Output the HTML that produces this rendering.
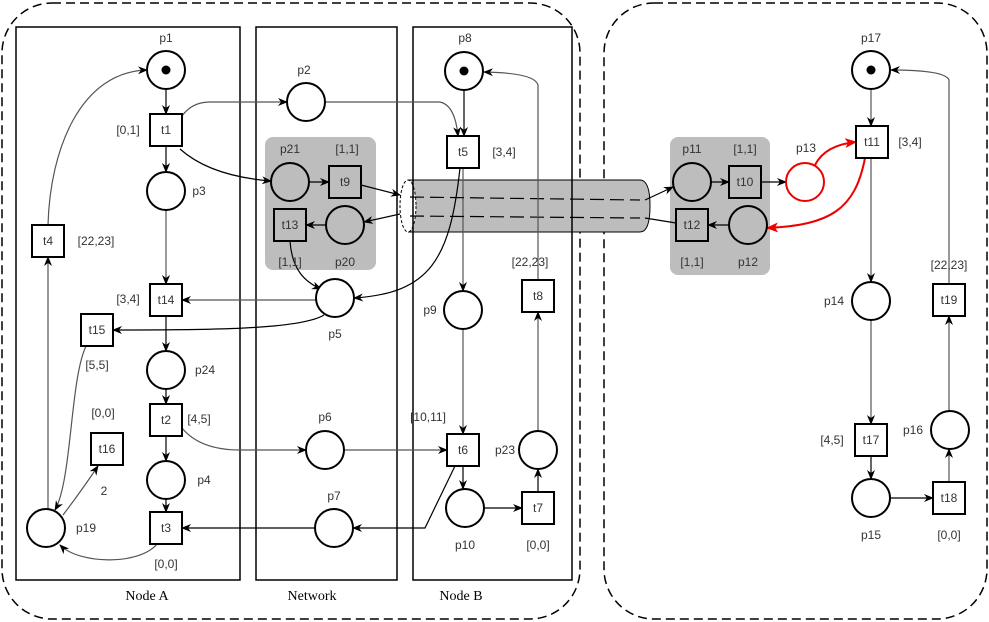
<!DOCTYPE html>
<html><head><meta charset="utf-8"><style>
body{margin:0;background:#fff;}
svg{display:block;font-family:"Liberation Sans",Arial,sans-serif;}
.l{font-size:12px;fill:#333;text-anchor:middle;dominant-baseline:central;}
.s{font-family:"Liberation Serif",serif;font-size:14px;fill:#000;text-anchor:middle;}
.pl{fill:#fff;stroke:#000;stroke-width:2;}
.pg{fill:#bdbdbd;stroke:#000;stroke-width:2;}
.e{fill:none;stroke:#555;stroke-width:1.2;marker-end:url(#a);}
.k{fill:none;stroke:#000;stroke-width:1.2;marker-end:url(#a);}
</style></head><body>
<svg width="989" height="622" viewBox="0 0 989 622" xmlns="http://www.w3.org/2000/svg">
<defs>
<marker id="a" markerWidth="10" markerHeight="8" refX="9" refY="4" orient="auto" markerUnits="userSpaceOnUse"><path d="M0,0 L10,4 L0,8 L3,4 Z" fill="#000"/></marker>
<marker id="r" markerWidth="12" markerHeight="10" refX="11" refY="5" orient="auto" markerUnits="userSpaceOnUse"><path d="M0,0 L12,5 L0,10 L3,5 Z" fill="#e00"/></marker>
</defs>
<!-- outer dashed boxes -->
<rect x="2" y="3" width="578" height="616" rx="50" fill="none" stroke="#000" stroke-width="1.5" stroke-dasharray="9,5"/>
<rect x="604" y="3" width="383" height="616" rx="50" fill="none" stroke="#000" stroke-width="1.5" stroke-dasharray="9,5"/>
<!-- cylinder -->
<path d="M408,180 L640,180 Q650,180 650,206 Q650,232 640,232 L408,232" fill="#bdbdbd" stroke="#000" stroke-width="1"/>
<ellipse cx="408" cy="206" rx="8" ry="26" fill="#fff" stroke="#000" stroke-width="1" stroke-dasharray="3,2"/>
<!-- panels -->
<rect x="16" y="27" width="224" height="553" fill="none" stroke="#000" stroke-width="1.5"/>
<rect x="256" y="27" width="141" height="553" fill="none" stroke="#000" stroke-width="1.5"/>
<rect x="413" y="27" width="159" height="553" fill="none" stroke="#000" stroke-width="1.5"/>
<text class="s" x="147" y="600">Node A</text>
<text class="s" x="312" y="600">Network</text>
<text class="s" x="461" y="600">Node B</text>
<!-- gray groups -->
<rect x="265" y="137" width="111" height="133" rx="8" fill="#bdbdbd"/>
<rect x="670" y="137" width="100" height="138" rx="8" fill="#bdbdbd"/>

<!-- edges -->
<g>
<path class="k" d="M166,89 L166,114"/>
<path class="k" d="M166,146 L166,172"/>
<path class="e" d="M166,210 L166,284"/>
<path class="k" d="M166,316 L166,351"/>
<path class="k" d="M166,389 L166,404"/>
<path class="k" d="M166,436 L166,461"/>
<path class="k" d="M166,499 L166,512"/>
<path class="e" d="M182,116 Q192,102 210,102 L287,102"/>
<path class="k" d="M180,149 Q210,176 271,181"/>
<path class="e" d="M325,102 L440,102 Q455,105 458,136"/>
<path class="k" d="M464,90 L464,136"/>
<path class="e" d="M463,168 L463,291"/>
<path class="k" d="M460,168 C450,260 430,293 354,298"/>
<path class="e" d="M316,300 L182,300"/>
<path class="k" d="M290,241 C292,270 305,282 321,289"/>
<path class="k" d="M324,315 C300,330 200,330 113,330"/>
<path class="k" d="M309,182 L329,182"/>
<path class="k" d="M326,225 L306,225"/>
<path class="k" d="M361,185 L400,195"/>
<path d="M410,197 L640,200" fill="none" stroke="#000" stroke-width="1.2" stroke-dasharray="14,6"/>
<path class="k" d="M645,200 L673,187"/>
<path d="M400,214 L364,222" fill="none" stroke="#000" stroke-width="1.2" marker-end="url(#a)"/>
<path d="M410,216 L640,218" fill="none" stroke="#000" stroke-width="1.2" stroke-dasharray="14,6"/>
<path d="M645,218 L676,223" fill="none" stroke="#000" stroke-width="1.2"/>
<path class="k" d="M711,182 L729,182"/>
<path class="k" d="M729,225 L708,225"/>
<path class="k" d="M761,182 L786,182"/>
<path d="M815,165 Q825,145 856,142" fill="none" stroke="#e00" stroke-width="2" marker-end="url(#r)"/>
<path d="M865,158 C855,210 830,225 767,228" fill="none" stroke="#e00" stroke-width="2" marker-end="url(#r)"/>
<path class="e" d="M871,89 L871,126"/>
<path class="e" d="M871,158 L871,282"/>
<path class="e" d="M871,320 L871,424"/>
<path class="k" d="M871,456 L871,479"/>
<path class="k" d="M890,498 L933,498"/>
<path class="e" d="M949,482 L949,449"/>
<path class="e" d="M949,411 L949,316"/>
<path class="e" d="M949,284 L949,80 Q945,70 891,70"/>
<path class="e" d="M538,280 L538,85 Q535,73 484,72"/>
<path class="e" d="M463,329 L463,434"/>
<path class="k" d="M463,466 L463,489"/>
<path class="k" d="M484,508 L522,508"/>
<path class="k" d="M538,492 L538,469"/>
<path class="e" d="M538,431 L538,312"/>
<path class="e" d="M344,450 L447,450"/>
<path class="e" d="M182,428 Q200,450 240,450 L306,450"/>
<path class="k" d="M455,466 L425,528 L353,528"/>
<path class="k" d="M315,528 L182,528"/>
<path class="e" d="M157,544 C140,565 80,565 60,545"/>
<path class="e" d="M86,346 C70,380 72,480 55,510"/>
<path class="e" d="M63,515 Q82,490 98,466"/>
<path class="e" d="M48,509 L48,257"/>
<path class="e" d="M48,225 C50,150 80,72 147,70"/>
</g>

<!-- places -->
<g>
<circle class="pl" cx="166" cy="70" r="19"/><circle cx="166" cy="70" r="4.5"/>
<circle class="pl" cx="166" cy="191" r="19"/>
<circle class="pl" cx="166" cy="370" r="19"/>
<circle class="pl" cx="166" cy="480" r="19"/>
<circle class="pl" cx="46" cy="528" r="19"/>
<circle class="pl" cx="306" cy="102" r="19"/>
<circle class="pg" cx="290" cy="182" r="19"/>
<circle class="pg" cx="345" cy="225" r="19"/>
<circle class="pl" cx="335" cy="298" r="19"/>
<circle class="pl" cx="325" cy="450" r="19"/>
<circle class="pl" cx="334" cy="528" r="19"/>
<circle class="pl" cx="464" cy="71" r="19"/><circle cx="464" cy="71" r="4.5"/>
<circle class="pl" cx="463" cy="310" r="19"/>
<circle class="pl" cx="465" cy="508" r="19"/>
<circle class="pl" cx="538" cy="450" r="19"/>
<circle class="pg" cx="692" cy="182" r="19"/>
<circle class="pg" cx="748" cy="225" r="19"/>
<circle cx="805" cy="182" r="19" fill="#fff" stroke="#e00" stroke-width="2"/>
<circle class="pl" cx="871" cy="70" r="19"/><circle cx="871" cy="70" r="4.5"/>
<circle class="pl" cx="871" cy="301" r="19"/>
<circle class="pl" cx="871" cy="498" r="19"/>
<circle class="pl" cx="950" cy="430" r="19"/>
</g>
<!-- transitions -->
<g stroke="#000" stroke-width="2" fill="#fff">
<rect x="150" y="114" width="32" height="32"/>
<rect x="150" y="284" width="32" height="32"/>
<rect x="32" y="225" width="32" height="32"/>
<rect x="81" y="314" width="32" height="32"/>
<rect x="150" y="404" width="32" height="32"/>
<rect x="91" y="433" width="32" height="32"/>
<rect x="150" y="512" width="32" height="32"/>
<rect x="329" y="166" width="32" height="32" fill="#bdbdbd"/>
<rect x="274" y="209" width="32" height="32" fill="#bdbdbd"/>
<rect x="447" y="136" width="32" height="32"/>
<rect x="447" y="434" width="32" height="32"/>
<rect x="522" y="492" width="32" height="32"/>
<rect x="522" y="280" width="32" height="32"/>
<rect x="729" y="166" width="32" height="32" fill="#bdbdbd"/>
<rect x="676" y="209" width="32" height="32" fill="#bdbdbd"/>
<rect x="856" y="126" width="32" height="32"/>
<rect x="855" y="424" width="32" height="32"/>
<rect x="933" y="482" width="32" height="32"/>
<rect x="933" y="284" width="32" height="32"/>
</g>
<!-- labels -->
<g class="l">
<text class="l" x="166" y="130">t1</text><text class="l" x="166" y="300">t14</text>
<text class="l" x="48" y="241">t4</text><text class="l" x="97" y="330">t15</text>
<text class="l" x="166" y="420">t2</text><text class="l" x="107" y="449">t16</text>
<text class="l" x="166" y="528">t3</text><text class="l" x="345" y="182">t9</text>
<text class="l" x="290" y="225">t13</text><text class="l" x="463" y="152">t5</text>
<text class="l" x="463" y="450">t6</text><text class="l" x="538" y="508">t7</text>
<text class="l" x="538" y="296">t8</text><text class="l" x="745" y="182">t10</text>
<text class="l" x="692" y="225">t12</text><text class="l" x="872" y="142">t11</text>
<text class="l" x="871" y="440">t17</text><text class="l" x="949" y="498">t18</text>
<text class="l" x="949" y="300">t19</text>

<text class="l" x="166" y="38">p1</text><text class="l" x="128" y="130">[0,1]</text>
<text class="l" x="199" y="191">p3</text><text class="l" x="96" y="241">[22,23]</text>
<text class="l" x="128" y="299">[3,4]</text><text class="l" x="97" y="365">[5,5]</text>
<text class="l" x="205" y="370">p24</text><text class="l" x="199" y="419">[4,5]</text>
<text class="l" x="103" y="413">[0,0]</text><text class="l" x="104" y="491">2</text>
<text class="l" x="204" y="480">p4</text><text class="l" x="86" y="528">p19</text>
<text class="l" x="166" y="564">[0,0]</text>
<text class="l" x="304" y="70">p2</text><text class="l" x="290" y="149">p21</text>
<text class="l" x="347" y="149">[1,1]</text><text class="l" x="290" y="262">[1,1]</text>
<text class="l" x="345" y="262">p20</text><text class="l" x="335" y="334">p5</text>
<text class="l" x="325" y="417">p6</text><text class="l" x="334" y="496">p7</text>
<text class="l" x="465" y="38">p8</text><text class="l" x="504" y="152">[3,4]</text>
<text class="l" x="430" y="310">p9</text><text class="l" x="428" y="417">[10,11]</text>
<text class="l" x="465" y="545">p10</text><text class="l" x="538" y="545">[0,0]</text>
<text class="l" x="505" y="450">p23</text><text class="l" x="530" y="262">[22,23]</text>
<text class="l" x="692" y="149">p11</text><text class="l" x="745" y="149">[1,1]</text>
<text class="l" x="692" y="262">[1,1]</text><text class="l" x="748" y="262">p12</text>
<text class="l" x="806" y="148">p13</text><text class="l" x="871" y="38">p17</text>
<text class="l" x="910" y="142">[3,4]</text><text class="l" x="834" y="301">p14</text>
<text class="l" x="832" y="440">[4,5]</text><text class="l" x="871" y="535">p15</text>
<text class="l" x="949" y="535">[0,0]</text><text class="l" x="913" y="430">p16</text>
<text class="l" x="949" y="265">[22,23]</text>
</g>
</svg>
</body></html>
